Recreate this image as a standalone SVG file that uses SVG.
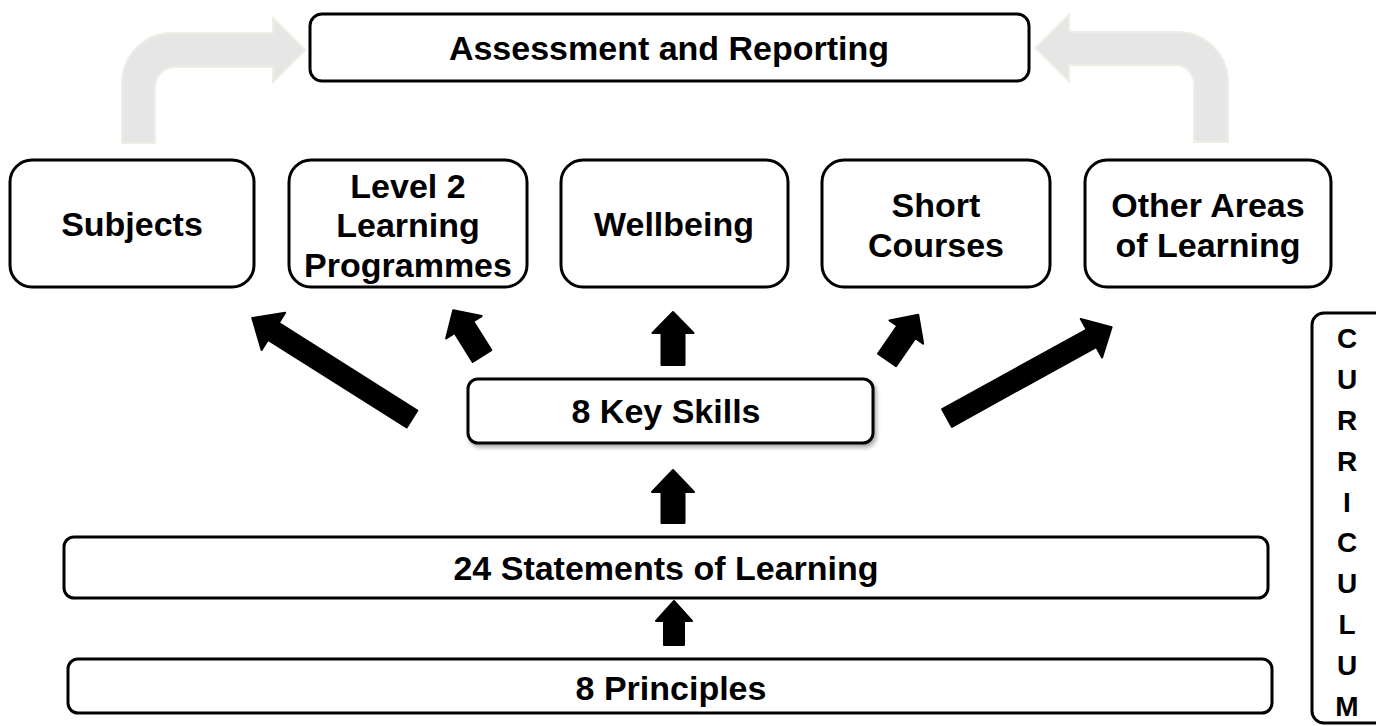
<svg xmlns="http://www.w3.org/2000/svg" width="1376" height="726" viewBox="0 0 1376 726">
<defs>
<style>
.box{fill:#fff;stroke:#000;stroke-width:3}
.t{font-family:"Liberation Sans",Arial,sans-serif;font-weight:bold;font-size:34px;fill:#000;text-anchor:middle}
.v{font-family:"Liberation Sans",Arial,sans-serif;font-weight:bold;font-size:28px;fill:#000;text-anchor:middle}
.bent{fill:#e6e6e6;stroke:#efeee4;stroke-width:2}
.blk{fill:#000;stroke:#000;stroke-width:2;stroke-linejoin:round}
</style>
<filter id="sh" x="-10%" y="-20%" width="120%" height="150%">
<feDropShadow dx="2" dy="3" stdDeviation="2" flood-color="#000" flood-opacity="0.35"/>
</filter>
</defs>
<rect width="1376" height="726" fill="#fff"/>

<g id="connectors">
<path class="bent" d="M122,143 L122,83 A50,50 0 0 1 172,33 L273,33 L273,18 L305,50 L273,82 L273,67 L175,67 A20,20 0 0 0 155,87 L155,143 Z"/>
<path class="bent" d="M1228,142 L1228,82 A50,50 0 0 0 1178,32 L1069,32 L1069,15 L1036,48 L1069,81 L1069,65 L1175,65 A19,19 0 0 1 1194,84 L1194,142 Z"/>
<polygon class="blk" transform="translate(412,419) rotate(212.3)" points="0,-10 164,-10 164,-22 189,0 164,22 164,10 0,10"/>
<polygon class="blk" transform="translate(482,356) rotate(237.8)" points="0,-11 34,-11 34,-21 54,0 34,21 34,11 0,11"/>
<polygon class="blk" transform="translate(673,365) rotate(-90)" points="0,-11.5 32,-11.5 32,-20.5 53,0 32,20.5 32,11.5 0,11.5"/>
<polygon class="blk" transform="translate(887,360) rotate(-55.4)" points="0,-11 34,-11 34,-20.5 55,0 34,20.5 34,11 0,11"/>
<polygon class="blk" transform="translate(947,418) rotate(-28.9)" points="0,-10 165,-10 165,-22 188,0 165,22 165,10 0,10"/>
<polygon class="blk" transform="translate(673,523) rotate(-90)" points="0,-11.5 31,-11.5 31,-21 53,0 31,21 31,11.5 0,11.5"/>
<polygon class="blk" transform="translate(674,645) rotate(-90)" points="0,-10 24,-10 24,-18 44,0 24,18 24,10 0,10"/>
</g>

<g id="assessment">
<rect class="box" x="310" y="14" width="719" height="67" rx="12"/>
<text class="t" x="669" y="60">Assessment and Reporting</text>
</g>
<g id="subjects">
<rect class="box" x="10" y="160" width="244" height="127" rx="22"/>
<text class="t" x="132" y="236">Subjects</text>
</g>
<g id="level2">
<rect class="box" x="289" y="160" width="238" height="127" rx="22"/>
<text class="t" x="408" y="198">Level 2</text>
<text class="t" x="408" y="237">Learning</text>
<text class="t" x="408" y="277">Programmes</text>
</g>
<g id="wellbeing">
<rect class="box" x="561" y="160" width="227" height="127" rx="22"/>
<text class="t" x="674" y="236">Wellbeing</text>
</g>
<g id="shortcourses">
<rect class="box" x="822" y="160" width="228" height="127" rx="22"/>
<text class="t" x="936" y="217">Short</text>
<text class="t" x="936" y="257">Courses</text>
</g>
<g id="otherareas">
<rect class="box" x="1085" y="160" width="246" height="127" rx="22"/>
<text class="t" x="1208" y="217">Other Areas</text>
<text class="t" x="1208" y="257">of Learning</text>
</g>
<g id="keyskills">
<rect class="box" x="468" y="379" width="405" height="64" rx="10" filter="url(#sh)"/>
<text class="t" x="666" y="423">8 Key Skills</text>
</g>
<g id="statements">
<rect class="box" x="64" y="537" width="1204" height="61" rx="10"/>
<text class="t" x="666" y="580">24 Statements of Learning</text>
</g>
<g id="principles">
<rect class="box" x="68" y="659" width="1204" height="54" rx="10"/>
<text class="t" x="671" y="700">8 Principles</text>
</g>
<g id="curriculum">
<rect class="box" x="1312" y="313" width="90" height="410" rx="12"/>
<text class="v" x="1347" y="348">C</text>
<text class="v" x="1347" y="389">U</text>
<text class="v" x="1347" y="430">R</text>
<text class="v" x="1347" y="471">R</text>
<text class="v" x="1347" y="512">I</text>
<text class="v" x="1347" y="552">C</text>
<text class="v" x="1347" y="593">U</text>
<text class="v" x="1347" y="634">L</text>
<text class="v" x="1347" y="675">U</text>
<text class="v" x="1347" y="716">M</text>
</g>
</svg>
